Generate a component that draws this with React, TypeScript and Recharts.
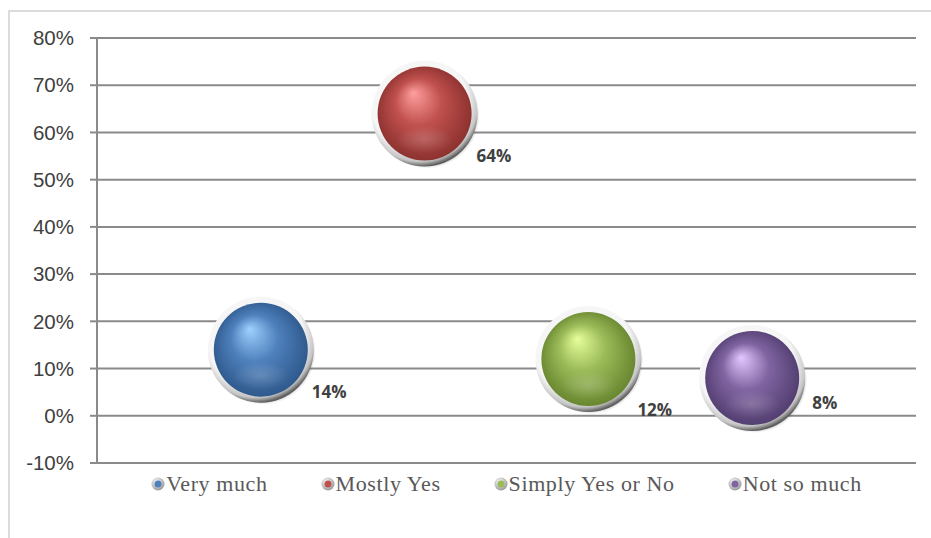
import React from "react";
import {
  ScatterChart,
  Scatter,
  XAxis,
  YAxis,
  ZAxis,
  CartesianGrid,
  Legend,
} from "recharts";

const categories = ["Very much", "Mostly Yes", "Simply Yes or No", "Not so much"];
const positions = [1, 2, 3, 4];
const shares = [14, 64, 12, 8];
const yTicks = [-10, 0, 10, 20, 30, 40, 50, 60, 70, 80];

// colour ramps per series: highlight, base, shade
const palette = [
  ["#9fd0ff", "#4f81bd", "#2a5486"],
  ["#ff9f9f", "#c0504d", "#862e2c"],
  ["#e6ff9a", "#9bbb59", "#62802a"],
  ["#e2c8ff", "#8064a2", "#4d3a6a"],
];
// label offset from bubble centre (dx, dy)
const labelOffsets = [
  [51, 48],
  [52, 48],
  [49, 57],
  [60, 31],
];

const R_OUT = 53;
const R_IN = 47;

const Bubble = (props: any) => {
  const { cx, cy, idx } = props;
  if (cx == null || cy == null) return null;
  const id = `g${idx}`;
  const [dx, dy] = labelOffsets[idx];
  return (
    <g>
      <circle cx={cx + 2} cy={cy + 2} r={R_OUT} fill="url(#rimShadow)" />
      <circle cx={cx} cy={cy} r={R_OUT} fill="url(#rim)" />
      <circle cx={cx} cy={cy} r={R_IN} fill={`url(#${id})`} />
      <ellipse
        cx={cx}
        cy={cy + R_IN * 0.55}
        rx={R_IN * 0.6}
        ry={R_IN * 0.3}
        fill="url(#reflect)"
      />
      <text
        x={cx + dx}
        y={cy + dy}
        fontFamily="'Open Sans', 'Liberation Sans', sans-serif"
        fontWeight={700}
        fontSize={17}
        fill="#404040"
      >
        {shares[idx]}%
      </text>
    </g>
  );
};

const LegendContent = () => (
  <div
    style={{
      display: "flex",
      justifyContent: "center",
      gap: 53,
      fontFamily: "'Liberation Serif', 'Times New Roman', serif",
      fontSize: 22,
      letterSpacing: 0.6,
      color: "#595959",
      lineHeight: "24px",
      whiteSpace: "nowrap",
    }}
  >
    {categories.map((c, i) => (
      <div key={c} style={{ display: "flex", alignItems: "center" }}>
        <svg width={14} height={14} style={{ marginRight: 1 }}>
          <circle cx={7} cy={7} r={6.5} fill="url(#legRim)" />
          <circle cx={7} cy={7} r={3.5} fill={palette[i][1]} />
        </svg>
        <span>{c}</span>
      </div>
    ))}
  </div>
);

const App: React.FC = () => {
  const seriesData = categories.map((c, i) => [
    { x: positions[i], y: shares[i], z: 1, name: c },
  ]);

  return (
    <div
      style={{
        position: "absolute",
        left: 0,
        top: 0,
        width: 931,
        height: 538,
        background: "#fff",
      }}
    >
      <div
        style={{
          position: "absolute",
          left: 8,
          top: 10,
          width: 923,
          height: 528,
          borderTop: "2px solid #dcdcdc",
          borderLeft: "2px solid #dcdcdc",
          boxSizing: "border-box",
        }}
      />
      <svg width={0} height={0} style={{ position: "absolute" }}>
        <defs>
          <radialGradient id="legRim" cx="40%" cy="35%" r="65%">
            <stop offset="0%" stopColor="#ffffff" />
            <stop offset="100%" stopColor="#9a9a9a" />
          </radialGradient>
        </defs>
      </svg>
      <ScatterChart
        width={931}
        height={538}
        margin={{ top: 38, right: 15, bottom: 51, left: 0 }}
        style={{ position: "absolute", left: 0, top: 0 }}
      >
        <defs>
          {palette.map((p, i) => (
            <radialGradient key={i} id={`g${i}`} cx="50%" cy="50%" r="55%" fx="38%" fy="28%">
              <stop offset="0%" stopColor={p[0]} />
              <stop offset="45%" stopColor={p[1]} />
              <stop offset="100%" stopColor={p[2]} />
            </radialGradient>
          ))}
          <radialGradient id="rim" cx="45%" cy="40%" r="60%">
            <stop offset="76%" stopColor="#f6f6f6" />
            <stop offset="92%" stopColor="#c4c4c4" />
            <stop offset="100%" stopColor="#5e5e5e" />
          </radialGradient>
          <radialGradient id="rimShadow" cx="50%" cy="50%" r="50%">
            <stop offset="85%" stopColor="#000" stopOpacity={0.35} />
            <stop offset="100%" stopColor="#000" stopOpacity={0} />
          </radialGradient>
          <radialGradient id="reflect" cx="50%" cy="50%" r="50%">
            <stop offset="0%" stopColor="#fff" stopOpacity={0.18} />
            <stop offset="100%" stopColor="#fff" stopOpacity={0} />
          </radialGradient>
        </defs>
        <CartesianGrid vertical={false} stroke="#8a8a8a" strokeWidth={2} />
        <XAxis type="number" dataKey="x" domain={[0, 5]} hide />
        <YAxis
          type="number"
          dataKey="y"
          domain={[-10, 80]}
          ticks={yTicks}
          width={97}
          tickFormatter={(v) => `${v}%`}
          tickSize={7}
          tickMargin={16}
          axisLine={{ stroke: "#8a8a8a", strokeWidth: 2 }}
          tickLine={{ stroke: "#8a8a8a", strokeWidth: 2 }}
          tick={{
            fill: "#404040",
            fontSize: 20.5,
            fontFamily: "'Liberation Sans', Arial, sans-serif",
          }}
        />
        <ZAxis type="number" dataKey="z" range={[100, 100]} />
        {seriesData.map((d, i) => (
          <Scatter
            key={categories[i]}
            name={categories[i]}
            data={d}
            fill={palette[i][1]}
            isAnimationActive={false}
            shape={(p: any) => <Bubble {...p} idx={i} />}
          />
        ))}
        <Legend
          content={<LegendContent />}
          wrapperStyle={{ top: 472, left: 97, width: 819, height: 24 }}
        />
      </ScatterChart>
    </div>
  );
};

export default App;
